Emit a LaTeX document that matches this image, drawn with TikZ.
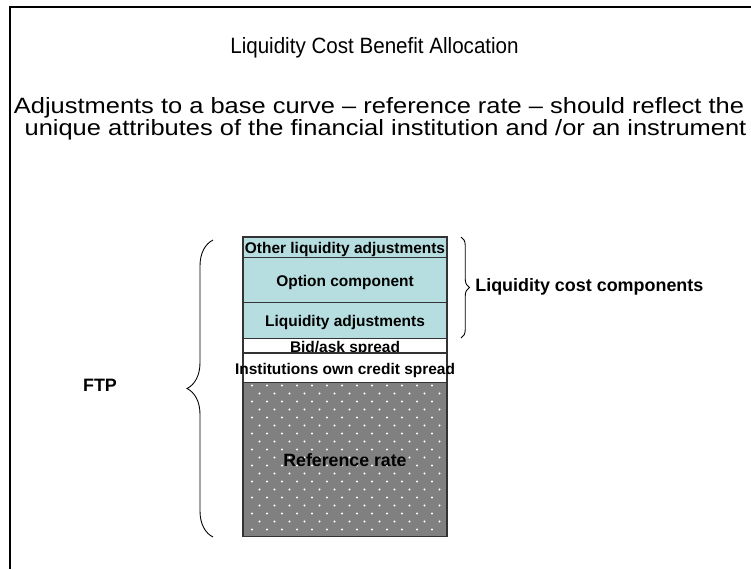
\documentclass[tikz,border=0pt]{standalone}
\usepackage{fontspec}
\setmainfont{Liberation Sans}
\usetikzlibrary{positioning, decorations.pathreplacing}
\definecolor{tealfill}{RGB}{182,222,224}
\definecolor{refgray}{RGB}{128,128,128}

\begin{document}
\begin{tikzpicture}[x=0.02cm, y=-0.02cm, node distance=0pt,
    heading/.style={anchor=base, inner sep=0pt, font=\fontsize{12.6}{14}\selectfont},
    layer/.style={draw=black!80, line width=0.6pt, minimum width=4.08cm, inner sep=0pt, outer sep=0pt,
        text height=0.72em, text depth=0pt, font=\fontsize{8.8}{10}\selectfont\bfseries},
    bracket/.style={decorate, line width=0.5pt}]
    \useasboundingbox (0,0) rectangle (751,569);
    \draw[line width=1.2pt] (751,7) -- (10,7) -- (10,569);
    \node[heading] (title) at (374.5,53) {\scalebox{0.93}[1]{Liquidity Cost Benefit Allocation}};
    \node[heading] (intro1) at (379,113) {\scalebox{1.15}[1]{Adjustments to a base curve -- reference rate -- should reflect the}};
    \node[heading] (intro2) at (385.5,135) {\scalebox{1.15}[1]{unique attributes of the financial institution and /or an instrument}};
    % stack of rate components
    \node[layer, fill=tealfill, minimum height=0.41cm, anchor=north] (other) at (345,237) {Other liquidity adjustments};
    \node[layer, fill=tealfill, minimum height=0.90cm, below=of other] (option) {Option component};
    \node[layer, fill=tealfill, minimum height=0.72cm, below=of option] (liqadj) {Liquidity adjustments};
    \node[layer, fill=white, minimum height=0.29cm, below=of liqadj] (bidask) {Bid/ask spread};
    \node[layer, fill=white, minimum height=0.59cm, below=of bidask] (credit) {\makebox[4.08cm]{Institutions own credit spread}};
    \node[layer, fill=refgray, minimum height=3.09cm, below=of credit, font=\fontsize{10.1}{12}\selectfont\bfseries,
        path picture={
            \foreach \r in {0,...,19} {
                \foreach \c in {0,...,14} {
                    \fill[white] ([xshift={(9+15*\c+7.5*mod(\r,2))*0.02cm}, yshift={-(3+8*\r)*0.02cm}]path picture bounding box.north west) circle (0.6pt);
                }
            }
        }] (ref) {Reference rate};
    % braces
    \coordinate (ftptop) at (213,240);
    \coordinate (ftpbot) at (213,537);
    \coordinate (lcctop) at (461,237);
    \coordinate (lccbot) at (461,338);
    \draw[bracket, decoration={brace, amplitude=0.52cm}] (ftpbot) -- (ftptop);
    \draw[bracket, decoration={brace, amplitude=0.17cm}] (lcctop) -- (lccbot);
    \node[font=\fontsize{10.2}{12}\selectfont\bfseries] (ftp) at (100,385) {FTP};
    \node[anchor=west, inner sep=0pt, font=\fontsize{10.2}{12}\selectfont\bfseries] (lcc) at (475,287) {Liquidity cost components};
\end{tikzpicture}
\end{document}
